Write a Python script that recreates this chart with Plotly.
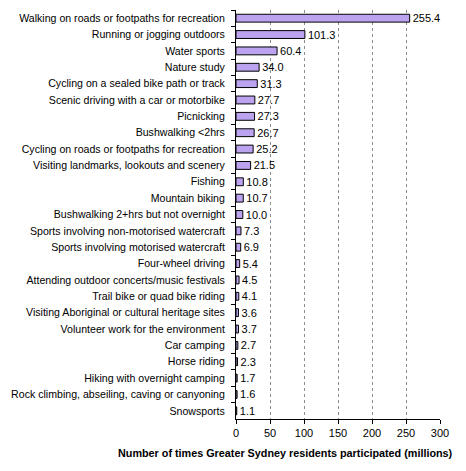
import plotly.graph_objects as go

# activities, top to bottom as in the chart
activities = [
    "Walking on roads or footpaths for recreation",
    "Running or jogging outdoors",
    "Water sports",
    "Nature study",
    "Cycling on a sealed bike path or track",
    "Scenic driving with a car or motorbike",
    "Picnicking",
    "Bushwalking <2hrs",
    "Cycling on roads or footpaths for recreation",
    "Visiting landmarks, lookouts and scenery",
    "Fishing",
    "Mountain biking",
    "Bushwalking 2+hrs but not overnight",
    "Sports involving non-motorised watercraft",
    "Sports involving motorised watercraft",
    "Four-wheel driving",
    "Attending outdoor concerts/music festivals",
    "Trail bike or quad bike riding",
    "Visiting Aboriginal or cultural heritage sites",
    "Volunteer work for the environment",
    "Car camping",
    "Horse riding",
    "Hiking with overnight camping",
    "Rock climbing, abseiling, caving or canyoning",
    "Snowsports",
]
participations = [255.4, 101.3, 60.4, 34.0, 31.3, 27.7, 27.3, 26.7, 25.2, 21.5,
                  10.8, 10.7, 10.0, 7.3, 6.9, 5.4, 4.5, 4.1, 3.6, 3.7,
                  2.7, 2.3, 1.7, 1.6, 1.1]
x_ticks = [0, 50, 100, 150, 200, 250, 300]
x_title = "Number of times Greater Sydney residents participated (millions)"

fig = go.Figure()
fig.add_trace(go.Bar(
    y=activities, x=participations, orientation="h",
    marker=dict(color="#BBA3F0", line=dict(color="black", width=1)),
    text=[f"{v:.1f}" for v in participations],
    textposition="outside", cliponaxis=False, constraintext="none",
    textfont=dict(family="Liberation Sans, Arial", size=11, color="black"),
))

fig.update_layout(
    width=466, height=471,
    margin=dict(l=236, r=26, t=10, b=52),
    plot_bgcolor="white", paper_bgcolor="white",
    bargap=0.52, showlegend=False,
    font=dict(family="Liberation Sans, Arial", size=11, color="black"),
)
fig.update_yaxes(
    autorange="reversed", type="category", automargin=False,
    showline=True, linecolor="black", linewidth=1,
    ticks="outside", ticklen=4, tickcolor="black", tickson="boundaries",
    showgrid=False, ticklabelstandoff=8, tickfont=dict(size=10.6),
)
fig.update_xaxes(
    range=[0, 300], tickvals=x_ticks, automargin=False,
    showline=True, linecolor="black", linewidth=1,
    ticks="outside", ticklen=4, tickcolor="black",
    showgrid=True, gridcolor="#8c8c8c", griddash="3px,3px", gridwidth=1,
    zeroline=False,
)

# axis title sits left of centre in the original, so draw it as an annotation
fig.add_annotation(
    text=f"<b>{x_title}</b>", xref="paper", yref="paper",
    x=1.074, y=0, xanchor="right", yanchor="top", yshift=-26,
    showarrow=False, font=dict(size=10.8),
)

# drop the default body margin so the figure fills the window exactly
fig.write_html("out.html", config={"displayModeBar": False},
               post_script="document.body.style.margin='0px';")
